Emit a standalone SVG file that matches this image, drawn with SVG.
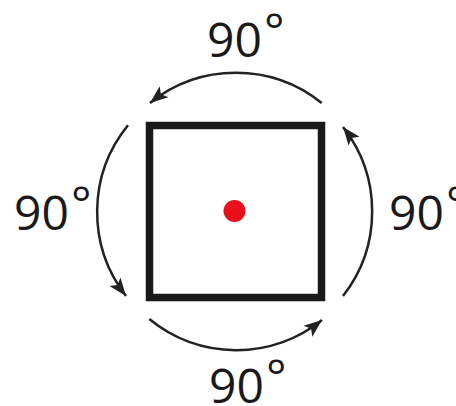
<svg xmlns="http://www.w3.org/2000/svg" width="456" height="406" viewBox="0 0 456 406">
<style>
.lbl{font-family:"Open Sans","Noto Sans",sans-serif;font-size:48px;fill:#1a1a1a}
.arc{fill:none;stroke:#222;stroke-width:2.5}
</style>
<defs>
<marker id="ah" markerUnits="userSpaceOnUse" markerWidth="20" markerHeight="16" viewBox="0 0 20 16" refX="18" refY="8" orient="auto">
<path d="M0,1 L18,8 L0,15 L4,8 Z" fill="#222"/>
</marker>
</defs>
<rect width="456" height="406" fill="#fff"/>
<g id="square">
<rect x="149.5" y="125.5" width="172" height="172" fill="none" stroke="#1a1a1a" stroke-width="7.5"/>
</g>
<g id="center">
<circle cx="234.5" cy="211" r="11" fill="#e8101a"/>
</g>
<g id="connectors">
<path class="arc" d="M321.7,103 A137,137 0 0 0 150,103" marker-end="url(#ah)"/>
<path class="arc" d="M128,125.3 A137,137 0 0 0 126,296" marker-end="url(#ah)"/>
<path class="arc" d="M149.3,319 A137,137 0 0 0 322,320" marker-end="url(#ah)"/>
<path class="arc" d="M343,296 A137,137 0 0 0 343,127" marker-end="url(#ah)"/>
</g>
<g id="label-top"><text class="lbl" x="207" y="57">90<tspan dx="2" dy="-9">°</tspan></text></g>
<g id="label-left"><text class="lbl" x="14" y="230">90<tspan dx="2" dy="-9">°</tspan></text></g>
<g id="label-right"><text class="lbl" x="389" y="230">90<tspan dx="2" dy="-9">°</tspan></text></g>
<g id="label-bottom"><text class="lbl" x="209" y="403">90<tspan dx="2" dy="-9">°</tspan></text></g>
</svg>
